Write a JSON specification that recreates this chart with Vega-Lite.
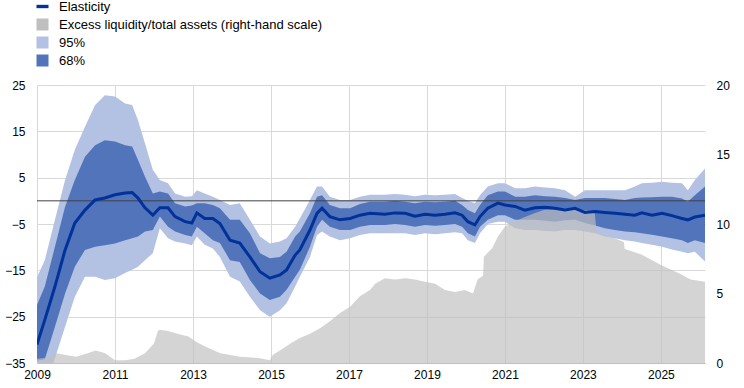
{
  "$schema": "https://vega.github.io/schema/vega-lite/v6.json",
  "width": 668,
  "height": 278,
  "autosize": {"type": "none"},
  "padding": {"left": 37, "top": 85, "right": 39, "bottom": 25},
  "background": "white",
  "config": {
    "view": {"stroke": null},
    "font": "Liberation Sans",
    "axis": {"labelFont": "Liberation Sans", "labelFontSize": 12, "labelColor": "#000000", "title": null, "ticks": false, "labelFlush": false},
    "legend": {
      "orient": "none", "legendX": -1, "legendY": -85, "direction": "vertical", "title": null,
      "symbolType": "square", "symbolSize": 144, "symbolStrokeWidth": 0,
      "labelFont": "Liberation Sans", "labelFontSize": 13, "labelColor": "#000000", "labelOffset": 10,
      "rowPadding": 4, "padding": 0, "labelLimit": 400
    }
  },
  "datasets": {
    "bands": [
      {"year": 2009.00, "el": -31.0, "lo95": -41.0, "lo68": -34.5, "hi68": -22.5, "hi95": -16.5},
      {"year": 2009.20, "el": -25.7, "lo95": -40.0, "lo68": -34.2, "hi68": -18.5, "hi95": -12.8},
      {"year": 2009.46, "el": -18.5, "lo95": -34.0, "lo68": -27.2, "hi68": -9.9, "hi95": -4.1},
      {"year": 2009.72, "el": -10.6, "lo95": -27.2, "lo68": -20.0, "hi68": -1.3, "hi95": 4.5},
      {"year": 2009.97, "el": -4.8, "lo95": -20.7, "lo68": -14.2, "hi68": 4.5, "hi95": 11.0},
      {"year": 2010.23, "el": -2.0, "lo95": -16.4, "lo68": -10.6, "hi68": 9.5, "hi95": 16.0},
      {"year": 2010.49, "el": 0.2, "lo95": -16.4, "lo68": -9.9, "hi68": 12.0, "hi95": 20.7},
      {"year": 2010.74, "el": 0.6, "lo95": -17.1, "lo68": -9.6, "hi68": 13.1, "hi95": 22.8},
      {"year": 2011.00, "el": 1.3, "lo95": -16.7, "lo68": -9.2, "hi68": 12.8, "hi95": 22.5},
      {"year": 2011.26, "el": 1.7, "lo95": -15.6, "lo68": -8.5, "hi68": 12.0, "hi95": 21.0},
      {"year": 2011.44, "el": 1.8, "lo95": -14.9, "lo68": -8.1, "hi68": 11.7, "hi95": 20.7},
      {"year": 2011.59, "el": 0.6, "lo95": -14.2, "lo68": -7.7, "hi68": 8.8, "hi95": 17.4},
      {"year": 2011.77, "el": -1.5, "lo95": -12.8, "lo68": -6.6, "hi68": 5.2, "hi95": 12.4},
      {"year": 2011.97, "el": -3.1, "lo95": -11.3, "lo68": -6.3, "hi68": 1.6, "hi95": 6.7},
      {"year": 2012.15, "el": -1.5, "lo95": -5.9, "lo68": -3.4, "hi68": 2.0, "hi95": 4.5},
      {"year": 2012.36, "el": -1.5, "lo95": -8.1, "lo68": -5.6, "hi68": 1.6, "hi95": 3.8},
      {"year": 2012.54, "el": -3.4, "lo95": -8.8, "lo68": -6.6, "hi68": -0.5, "hi95": 1.6},
      {"year": 2012.80, "el": -4.5, "lo95": -9.2, "lo68": -7.4, "hi68": -1.2, "hi95": 0.9},
      {"year": 2012.97, "el": -4.8, "lo95": -9.6, "lo68": -7.7, "hi68": -1.0, "hi95": 1.0},
      {"year": 2013.10, "el": -2.6, "lo95": -7.7, "lo68": -5.6, "hi68": -0.5, "hi95": 2.3},
      {"year": 2013.30, "el": -3.8, "lo95": -9.5, "lo68": -7.0, "hi68": -0.5, "hi95": 1.6},
      {"year": 2013.51, "el": -3.8, "lo95": -10.3, "lo68": -8.5, "hi68": -0.9, "hi95": 0.9},
      {"year": 2013.69, "el": -4.9, "lo95": -12.1, "lo68": -9.1, "hi68": -1.6, "hi95": 0.2},
      {"year": 2013.95, "el": -8.5, "lo95": -16.4, "lo68": -12.8, "hi68": -4.1, "hi95": -0.9},
      {"year": 2014.20, "el": -9.1, "lo95": -17.4, "lo68": -13.2, "hi68": -4.1, "hi95": -0.5},
      {"year": 2014.46, "el": -12.1, "lo95": -20.7, "lo68": -17.1, "hi68": -7.0, "hi95": -4.1},
      {"year": 2014.72, "el": -15.3, "lo95": -23.6, "lo68": -20.0, "hi68": -11.3, "hi95": -7.7},
      {"year": 2014.97, "el": -16.7, "lo95": -25.0, "lo68": -21.4, "hi68": -12.4, "hi95": -9.2},
      {"year": 2015.23, "el": -16.0, "lo95": -23.6, "lo68": -20.7, "hi68": -12.1, "hi95": -8.8},
      {"year": 2015.40, "el": -14.9, "lo95": -22.1, "lo68": -19.2, "hi68": -11.0, "hi95": -8.1},
      {"year": 2015.62, "el": -11.7, "lo95": -18.5, "lo68": -16.4, "hi68": -7.7, "hi95": -5.6},
      {"year": 2015.74, "el": -10.6, "lo95": -16.4, "lo68": -14.9, "hi68": -6.6, "hi95": -3.8},
      {"year": 2016.00, "el": -6.3, "lo95": -12.1, "lo68": -9.9, "hi68": -2.7, "hi95": 0.2},
      {"year": 2016.18, "el": -2.7, "lo95": -7.4, "lo68": -5.6, "hi68": 0.9, "hi95": 3.1},
      {"year": 2016.31, "el": -1.6, "lo95": -6.6, "lo68": -4.1, "hi68": 1.2, "hi95": 3.1},
      {"year": 2016.51, "el": -3.4, "lo95": -7.7, "lo68": -5.6, "hi68": -0.9, "hi95": 0.9},
      {"year": 2016.77, "el": -4.1, "lo95": -8.5, "lo68": -6.3, "hi68": -1.6, "hi95": 0.2},
      {"year": 2017.03, "el": -3.8, "lo95": -8.1, "lo68": -6.3, "hi68": -1.6, "hi95": 0.2},
      {"year": 2017.28, "el": -3.1, "lo95": -7.4, "lo68": -5.6, "hi68": -0.7, "hi95": 0.9},
      {"year": 2017.54, "el": -2.7, "lo95": -7.0, "lo68": -5.2, "hi68": -0.2, "hi95": 1.3},
      {"year": 2017.92, "el": -2.9, "lo95": -7.0, "lo68": -5.2, "hi68": -0.2, "hi95": 1.3},
      {"year": 2018.18, "el": -2.6, "lo95": -7.0, "lo68": -5.0, "hi68": 0.0, "hi95": 1.5},
      {"year": 2018.44, "el": -2.7, "lo95": -7.0, "lo68": -5.2, "hi68": -0.2, "hi95": 1.3},
      {"year": 2018.69, "el": -3.3, "lo95": -7.4, "lo68": -5.6, "hi68": -0.5, "hi95": 1.0},
      {"year": 2018.95, "el": -2.9, "lo95": -7.0, "lo68": -5.2, "hi68": -0.2, "hi95": 1.3},
      {"year": 2019.21, "el": -3.1, "lo95": -7.2, "lo68": -5.4, "hi68": -0.3, "hi95": 1.2},
      {"year": 2019.46, "el": -2.9, "lo95": -7.0, "lo68": -5.2, "hi68": -0.2, "hi95": 1.3},
      {"year": 2019.72, "el": -2.6, "lo95": -6.8, "lo68": -5.0, "hi68": 0.0, "hi95": 1.5},
      {"year": 2019.90, "el": -3.1, "lo95": -7.0, "lo68": -5.6, "hi68": -0.9, "hi95": 0.6},
      {"year": 2020.05, "el": -4.5, "lo95": -8.5, "lo68": -7.0, "hi68": -2.0, "hi95": 0.0},
      {"year": 2020.23, "el": -5.2, "lo95": -9.1, "lo68": -7.7, "hi68": -2.7, "hi95": -0.5},
      {"year": 2020.36, "el": -3.4, "lo95": -7.0, "lo68": -5.6, "hi68": -0.9, "hi95": 1.2},
      {"year": 2020.56, "el": -1.6, "lo95": -5.0, "lo68": -4.1, "hi68": 1.2, "hi95": 3.1},
      {"year": 2020.82, "el": -0.5, "lo95": -4.5, "lo68": -3.1, "hi68": 2.0, "hi95": 3.8},
      {"year": 2021.00, "el": -0.9, "lo95": -4.5, "lo68": -3.1, "hi68": 2.0, "hi95": 3.8},
      {"year": 2021.26, "el": -1.2, "lo95": -5.9, "lo68": -4.1, "hi68": 0.9, "hi95": 2.7},
      {"year": 2021.51, "el": -2.0, "lo95": -6.3, "lo68": -4.1, "hi68": 0.9, "hi95": 2.7},
      {"year": 2021.77, "el": -1.5, "lo95": -6.3, "lo68": -4.1, "hi68": 1.2, "hi95": 3.1},
      {"year": 2022.03, "el": -1.4, "lo95": -6.5, "lo68": -4.3, "hi68": 1.0, "hi95": 2.9},
      {"year": 2022.28, "el": -1.6, "lo95": -6.6, "lo68": -4.5, "hi68": 0.9, "hi95": 2.7},
      {"year": 2022.54, "el": -2.0, "lo95": -6.3, "lo68": -4.2, "hi68": 0.6, "hi95": 2.3},
      {"year": 2022.80, "el": -1.6, "lo95": -6.3, "lo68": -4.1, "hi68": 0.2, "hi95": 0.9},
      {"year": 2023.05, "el": -2.5, "lo95": -6.6, "lo68": -4.8, "hi68": 0.6, "hi95": 2.3},
      {"year": 2023.31, "el": -2.3, "lo95": -7.0, "lo68": -5.3, "hi68": 0.6, "hi95": 2.3},
      {"year": 2023.56, "el": -2.5, "lo95": -7.7, "lo68": -5.9, "hi68": 0.6, "hi95": 2.3},
      {"year": 2023.82, "el": -2.7, "lo95": -8.1, "lo68": -6.3, "hi68": 0.4, "hi95": 2.3},
      {"year": 2024.08, "el": -2.9, "lo95": -8.5, "lo68": -6.6, "hi68": 0.2, "hi95": 2.3},
      {"year": 2024.33, "el": -3.1, "lo95": -8.8, "lo68": -6.8, "hi68": 0.6, "hi95": 3.1},
      {"year": 2024.51, "el": -2.6, "lo95": -9.1, "lo68": -7.0, "hi68": 0.7, "hi95": 3.8},
      {"year": 2024.77, "el": -3.1, "lo95": -9.5, "lo68": -7.3, "hi68": 0.8, "hi95": 3.9},
      {"year": 2025.03, "el": -2.7, "lo95": -9.9, "lo68": -7.7, "hi68": 0.9, "hi95": 4.1},
      {"year": 2025.28, "el": -3.2, "lo95": -10.5, "lo68": -8.1, "hi68": 0.9, "hi95": 3.9},
      {"year": 2025.54, "el": -3.8, "lo95": -11.0, "lo68": -8.5, "hi68": 0.5, "hi95": 3.8},
      {"year": 2025.69, "el": -4.1, "lo95": -11.3, "lo68": -9.1, "hi68": -0.2, "hi95": 2.3},
      {"year": 2025.87, "el": -3.5, "lo95": -11.0, "lo68": -8.5, "hi68": 1.2, "hi95": 4.5},
      {"year": 2026.13, "el": -3.1, "lo95": -13.1, "lo68": -9.1, "hi68": 3.1, "hi95": 7.0}
    ],
    "liq": [
      {"year": 2009.00, "excess": 0.3},
      {"year": 2009.30, "excess": 0.4},
      {"year": 2009.50, "excess": 0.7},
      {"year": 2009.70, "excess": 0.6},
      {"year": 2010.00, "excess": 0.45},
      {"year": 2010.30, "excess": 0.7},
      {"year": 2010.50, "excess": 0.9},
      {"year": 2010.75, "excess": 0.7},
      {"year": 2011.00, "excess": 0.2},
      {"year": 2011.26, "excess": 0.2},
      {"year": 2011.50, "excess": 0.3},
      {"year": 2011.77, "excess": 0.7},
      {"year": 2012.00, "excess": 1.4},
      {"year": 2012.10, "excess": 2.3},
      {"year": 2012.15, "excess": 2.4},
      {"year": 2012.36, "excess": 2.3},
      {"year": 2012.60, "excess": 2.1},
      {"year": 2012.88, "excess": 1.9},
      {"year": 2013.10, "excess": 1.5},
      {"year": 2013.30, "excess": 1.2},
      {"year": 2013.70, "excess": 0.7},
      {"year": 2014.20, "excess": 0.45},
      {"year": 2014.72, "excess": 0.35},
      {"year": 2014.97, "excess": 0.2},
      {"year": 2015.05, "excess": 0.6},
      {"year": 2015.23, "excess": 0.9},
      {"year": 2015.50, "excess": 1.4},
      {"year": 2015.74, "excess": 1.8},
      {"year": 2016.00, "excess": 2.1},
      {"year": 2016.26, "excess": 2.5},
      {"year": 2016.51, "excess": 3.0},
      {"year": 2016.77, "excess": 3.6},
      {"year": 2017.03, "excess": 4.05},
      {"year": 2017.28, "excess": 4.8},
      {"year": 2017.54, "excess": 5.25},
      {"year": 2017.67, "excess": 5.7},
      {"year": 2017.92, "excess": 6.1},
      {"year": 2018.18, "excess": 6.0},
      {"year": 2018.44, "excess": 6.1},
      {"year": 2018.69, "excess": 6.0},
      {"year": 2018.95, "excess": 5.85},
      {"year": 2019.21, "excess": 5.7},
      {"year": 2019.46, "excess": 5.25},
      {"year": 2019.72, "excess": 5.1},
      {"year": 2019.97, "excess": 5.25},
      {"year": 2020.18, "excess": 5.0},
      {"year": 2020.30, "excess": 6.0},
      {"year": 2020.44, "excess": 6.3},
      {"year": 2020.46, "excess": 7.65},
      {"year": 2020.67, "excess": 8.25},
      {"year": 2020.82, "excess": 9.1},
      {"year": 2021.00, "excess": 9.8},
      {"year": 2021.26, "excess": 10.2},
      {"year": 2021.51, "excess": 10.5},
      {"year": 2021.77, "excess": 10.8},
      {"year": 2022.00, "excess": 11.0},
      {"year": 2022.50, "excess": 11.1},
      {"year": 2022.80, "excess": 11.2},
      {"year": 2023.00, "excess": 11.0},
      {"year": 2023.30, "excess": 10.9},
      {"year": 2023.35, "excess": 9.4},
      {"year": 2023.80, "excess": 9.0},
      {"year": 2024.05, "excess": 8.7},
      {"year": 2024.07, "excess": 8.2},
      {"year": 2024.50, "excess": 7.8},
      {"year": 2025.00, "excess": 7.05},
      {"year": 2025.50, "excess": 6.4},
      {"year": 2025.76, "excess": 6.0},
      {"year": 2026.13, "excess": 5.85}
    ],
    "zero": [{"v": 0}]
  },
  "resolve": {"scale": {"y": "independent"}},
  "layer": [
    {
      "data": {"name": "bands"},
      "mark": {"type": "area", "clip": true},
      "encoding": {
        "x": {"field": "year", "type": "quantitative",
              "scale": {"domain": [2009, 2026.13], "nice": false, "zero": false},
              "axis": {"values": [2009, 2011, 2013, 2015, 2017, 2019, 2021, 2023, 2025], "format": "d",
                       "grid": true, "gridColor": "#d9d9d9", "domainColor": "#c0c0c0", "labelPadding": 6, "labelFlush": false}},
        "y": {"field": "lo95", "type": "quantitative",
              "scale": {"domain": [-35, 25], "nice": false, "zero": false},
              "axis": {"values": [-35, -25, -15, -5, 5, 15, 25], "grid": true, "gridColor": "#d9d9d9",
                       "domain": false, "labelPadding": 12, "labelFlush": false}},
        "y2": {"field": "hi95"},
        "color": {"datum": "95%", "type": "nominal",
                  "scale": {"domain": ["Elasticity", "Excess liquidity/total assets (right-hand scale)", "95%", "68%"],
                            "range": ["#003299", "#bfbfbf", "#b3c2e3", "#5274bb"]},
                  "legend": {
                    "encode": {"symbols": {"update": {
                      "shape": {"signal": "datum.label === 'Elasticity' ? 'M-1,-0.28H1V0.28H-1Z' : 'square'"},
                      "fill": {"scale": "color", "field": "value"},
                      "opacity": {"value": 1},
                      "strokeWidth": {"value": 0}
                    }}}
                  }}
      }
    },
    {
      "data": {"name": "bands"},
      "mark": {"type": "area", "clip": true},
      "encoding": {
        "x": {"field": "year", "type": "quantitative", "scale": {"domain": [2009, 2026.13], "nice": false, "zero": false}},
        "y": {"field": "lo68", "type": "quantitative", "scale": {"domain": [-35, 25], "nice": false, "zero": false}, "axis": null},
        "y2": {"field": "hi68"},
        "color": {"datum": "68%", "type": "nominal"}
      }
    },
    {
      "data": {"name": "liq"},
      "mark": {"type": "area", "clip": true, "opacity": 0.68},
      "encoding": {
        "x": {"field": "year", "type": "quantitative", "scale": {"domain": [2009, 2026.13], "nice": false, "zero": false}},
        "y": {"field": "excess", "type": "quantitative",
              "scale": {"domain": [0, 20], "nice": false, "zero": true},
              "axis": {"orient": "right", "values": [0, 5, 10, 15, 20], "grid": false, "domain": false, "labelPadding": 11, "labelFlush": false}},
        "color": {"datum": "Excess liquidity/total assets (right-hand scale)", "type": "nominal"}
      }
    },
    {
      "data": {"name": "zero"},
      "mark": {"type": "rule", "color": "#404040", "strokeWidth": 1},
      "encoding": {
        "y": {"field": "v", "type": "quantitative", "scale": {"domain": [-35, 25], "nice": false, "zero": false}, "axis": null}
      }
    },
    {
      "data": {"name": "bands"},
      "mark": {"type": "line", "clip": true, "strokeWidth": 3},
      "encoding": {
        "x": {"field": "year", "type": "quantitative", "scale": {"domain": [2009, 2026.13], "nice": false, "zero": false}},
        "y": {"field": "el", "type": "quantitative", "scale": {"domain": [-35, 25], "nice": false, "zero": false}, "axis": null},
        "color": {"datum": "Elasticity", "type": "nominal"}
      }
    }
  ]
}
